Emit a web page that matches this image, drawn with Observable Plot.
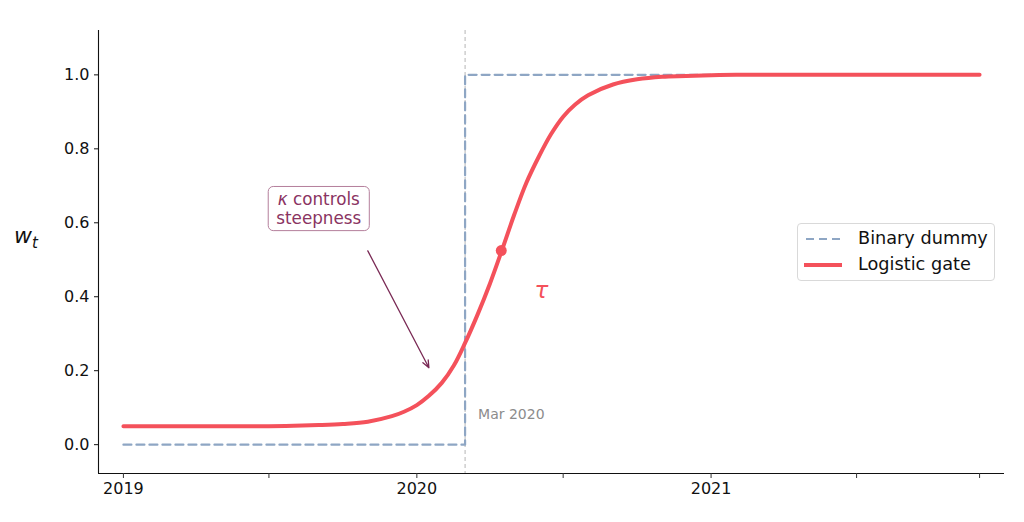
<!DOCTYPE html>
<html>
<head>
<meta charset="utf-8">
<script src="https://cdn.jsdelivr.net/npm/d3@7"></script>
<script src="https://cdn.jsdelivr.net/npm/@observablehq/plot@0.6"></script>
<style>
  html, body { margin: 0; padding: 0; background: #fff; }
  #wrap { position: relative; width: 1024px; height: 522px; font-family: "DejaVu Sans", sans-serif; }
  #legend {
    position: absolute; left: 797px; top: 223px; width: 196px; height: 56px;
    border: 1px solid #d9d9d9; border-radius: 4px; background: rgba(255,255,255,0.85);
    font-size: 17.7px; color: #111; line-height: 1;
  }
  .row { position: absolute; left: 6px; display: flex; align-items: center; height: 20px; }
  .row svg { margin-right: 16px; }
</style>
</head>
<body>
<div id="wrap"></div>
<script>
// ---- data ----
const gateDates = [
  "2019-01-01","2019-02-01","2019-03-01","2019-04-01","2019-05-01","2019-06-01",
  "2019-07-01","2019-08-01","2019-09-01","2019-10-01","2019-11-01","2019-12-01",
  "2019-12-16","2020-01-01","2020-01-16","2020-02-01","2020-02-16","2020-03-01",
  "2020-03-16","2020-04-01","2020-04-16","2020-05-01","2020-05-16","2020-06-01",
  "2020-06-16","2020-07-01","2020-07-16","2020-08-01","2020-09-01","2020-10-01",
  "2020-11-01","2020-12-01","2021-01-01","2021-02-01","2021-03-01","2021-04-01",
  "2021-05-01","2021-06-01","2021-07-01","2021-08-01","2021-09-01","2021-10-01",
  "2021-11-01","2021-12-01"
];
const gateValues = [
  0.050,0.050,0.050,0.050,0.050,0.050,
  0.050,0.051,0.053,0.056,0.062,0.077,
  0.089,0.107,0.132,0.167,0.214,0.275,
  0.349,0.436,0.527,0.621,0.707,0.780,
  0.840,0.887,0.920,0.945,0.974,0.988,
  0.995,0.997,0.999,1.000,1.000,1.000,
  1.000,1.000,1.000,1.000,1.000,1.000,
  1.000,1.000
];
const dummyDates = ["2019-01-01","2020-03-01","2021-12-01"];
const dummyValues = [0, 1, 1];
const breakDate = "2020-03-01";
const breakLabel = "Mar 2020";
const tauDate = "2020-04-15";
const tauValue = 0.525;
const tauLabelPos = {date: "2020-06-04", value: 0.416};
const noteText = "κ controls\nsteepness";
const notePos = {date: "2019-09-01", value: 0.638};
const arrowFrom = {date: "2019-11-01", value: 0.524};
const arrowTo = {date: "2020-01-16", value: 0.208};
const xTicks = ["2019-01-01","2019-07-01","2020-01-01","2020-07-01","2021-01-01","2021-07-01","2021-12-01"];
const xTickLabels = ["2019","","2020","","2021","",""];
const yTicks = [0, 0.2, 0.4, 0.6, 0.8, 1.0];
const xDomain = ["2018-12-01","2022-01-01"];
const yDomain = [-0.078, 1.12];

const RED = "#f4515b";
const BLUE = "#8ea6c4";
const PLUM = "#8a3462";

const P = s => new Date(s);
const gate = gateDates.map((d, i) => ({date: P(d), w: gateValues[i]}));
const dummy = dummyDates.map((d, i) => ({date: P(d), w: dummyValues[i]}));
const tickMap = new Map(xTicks.map((d, i) => [+P(d), xTickLabels[i]]));

const plot = Plot.plot({
  width: 1024,
  height: 522,
  marginLeft: 98,
  marginRight: 20,
  marginTop: 30,
  marginBottom: 49,
  style: {fontFamily: "DejaVu Sans, sans-serif", fontSize: "16px", color: "#111", background: "white"},
  x: {type: "utc", domain: xDomain.map(P)},
  y: {domain: yDomain},
  marks: [
    Plot.ruleX([P(breakDate)], {stroke: "#b5b5b5", strokeWidth: 1, strokeDasharray: "4,3"}),
    Plot.line(dummy, {x: "date", y: "w", curve: "step-after", stroke: BLUE, strokeWidth: 2.2, strokeDasharray: "8,5"}),
    Plot.line(gate, {x: "date", y: "w", curve: "catmull-rom", stroke: RED, strokeWidth: 4}),
    Plot.dot([{date: P(tauDate), w: tauValue}], {x: "date", y: "w", r: 5.5, fill: RED, stroke: "none"}),
    Plot.text([{date: P(breakDate), w: 0.081}], {x: "date", y: "w", text: () => breakLabel, textAnchor: "start", dx: 13, fill: "#8c8c8c", fontSize: 14}),
    Plot.text([{date: P(tauLabelPos.date), w: tauLabelPos.value}], {x: "date", y: "w", text: () => "τ", fill: RED, fontSize: 23, fontStyle: "italic"}),
    Plot.arrow([{x1: P(arrowFrom.date), y1: arrowFrom.value, x2: P(arrowTo.date), y2: arrowTo.value}],
      {x1: "x1", y1: "y1", x2: "x2", y2: "y2", stroke: "#7a2a55", strokeWidth: 1.3, headLength: 9, headAngle: 45}),
    Plot.text([{date: P(notePos.date), w: notePos.value}], {x: "date", y: "w", text: () => noteText, fill: PLUM, fontSize: 16.8, lineHeight: 1.08, className: "knote"}),
    Plot.ruleX([P(xDomain[0])], {stroke: "#111", strokeWidth: 1.1}),
    Plot.ruleY([yDomain[0]], {stroke: "#111", strokeWidth: 1.1}),
    Plot.axisX({ticks: xTicks.map(P), tickFormat: d => tickMap.get(+d) ?? "", tickSize: 5, tickPadding: 4, stroke: "#333", fill: "#111", fontSize: 16, label: null}),
    Plot.axisY({ticks: yTicks, tickFormat: d3.format(".1f"), tickSize: 4, tickPadding: 5, fill: "#111", fontSize: 16, label: null})
  ]
});

const wrap = document.getElementById("wrap");
wrap.appendChild(plot);

// italic kappa + rounded box around note
const svg = d3.select(plot);
const noteG = svg.select("g.knote");
const noteTextEl = noteG.select("text");
noteTextEl.selectAll("tspan").each(function() {
  const t = this.textContent;
  if (t.startsWith("κ")) {
    const sel = d3.select(this);
    sel.text("");
    sel.append("tspan").attr("font-style", "italic").text("κ");
    sel.append("tspan").text(t.slice(1));
  }
});
const bb = noteTextEl.node().getBBox();
const rect = noteG.insert("rect", "text")
  .attr("x", bb.x - 8).attr("y", bb.y - 3)
  .attr("width", bb.width + 16).attr("height", bb.height + 6)
  .attr("rx", 5).attr("fill", "white").attr("stroke", "#b47f9c").attr("stroke-width", 1);
const tr = noteTextEl.attr("transform");
if (tr) rect.attr("transform", tr);

// y-axis label w_t
const yS = plot.scale("y");
const lbl = svg.append("text")
  .attr("x", 26).attr("y", yS.apply(0.545))
  .attr("font-family", "DejaVu Sans, sans-serif")
  .attr("fill", "#111");
lbl.append("tspan").attr("font-style", "italic").attr("font-size", 22).text("w");
lbl.append("tspan").attr("font-style", "italic").attr("font-size", 15).attr("dy", 5).text("t");

// legend
const legend = document.createElement("div");
legend.id = "legend";
legend.innerHTML = `
  <div class="row" style="top:5px"><svg width="38" height="20"><line x1="2" y1="10" x2="38" y2="10" stroke="${BLUE}" stroke-width="2.2" stroke-dasharray="8,5"/></svg><span>Binary dummy</span></div>
  <div class="row" style="top:31px"><svg width="38" height="20"><line x1="0" y1="10" x2="38" y2="10" stroke="${RED}" stroke-width="4"/></svg><span>Logistic gate</span></div>`;
wrap.appendChild(legend);
</script>
</body>
</html>
